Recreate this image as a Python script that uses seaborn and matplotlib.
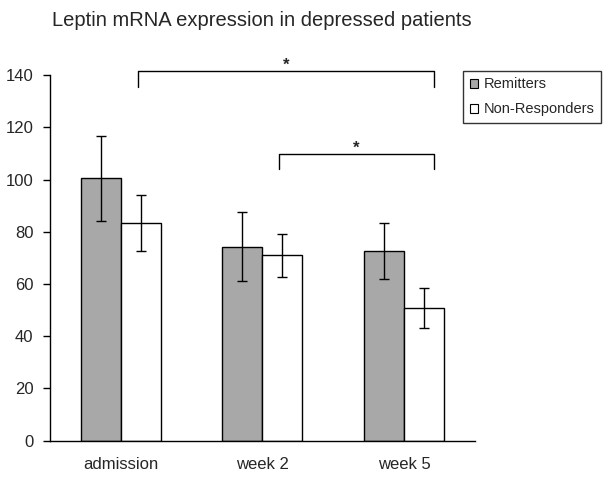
import pandas as pd
import seaborn as sns
import matplotlib.pyplot as plt
from matplotlib.patches import Patch

# values
timepoints = ['admission', 'week 2', 'week 5']
groups = ['Remitters', 'Non-Responders']
remitters = [100.5, 74.3, 72.7]
non_responders = [83.5, 71.0, 50.7]
remitters_err = [16.4, 13.3, 10.8]
non_responders_err = [10.7, 8.2, 7.6]

colors = {'Remitters': '#a8a8a8', 'Non-Responders': '#ffffff'}

data = pd.DataFrame({
    'time': timepoints * 2,
    'group': [groups[0]] * 3 + [groups[1]] * 3,
    'value': remitters + non_responders,
})

sns.set_style('white')
plt.rcParams['font.family'] = ['Liberation Sans', 'DejaVu Sans']

fig = plt.figure(figsize=(6.12, 4.79), dpi=100)
ax = fig.add_axes([0.0817, 0.080, 0.6943, 0.763])

sns.barplot(data=data, x='time', y='value', hue='group', order=timepoints,
            hue_order=groups, palette=colors, errorbar=None, width=0.565,
            edgecolor='black', linewidth=1.0, ax=ax, legend=False)

# error bars at bar centres
errs = remitters_err + non_responders_err
vals = remitters + non_responders
for bar, v, e in zip(ax.patches, vals, errs):
    cx = bar.get_x() + bar.get_width() / 2
    ax.errorbar(cx, v, yerr=e, fmt='none', ecolor='black', elinewidth=1.0,
                capsize=3.4, capthick=1.0)

ax.set_xlim(-0.5, 2.5)
ax.set_ylim(0, 140)
ax.set_yticks(range(0, 141, 20))
ax.set_xlabel('')
ax.set_ylabel('')
ax.set_xticks([0, 1, 2])
ax.set_xticklabels(timepoints)
ax.set_xticks([-0.5, 0.5, 1.5, 2.5], minor=True)
ax.tick_params(axis='x', which='major', length=0, labelsize=12, pad=12)
ax.tick_params(axis='x', which='minor', length=5, width=1, direction='out', color='black')
ax.tick_params(axis='y', length=5, width=1, direction='out', color='black',
               labelsize=12, left=True, pad=7)
sns.despine(ax=ax)
for s in ['left', 'bottom']:
    ax.spines[s].set_color('black')
    ax.spines[s].set_linewidth(1.0)

# significance brackets
def bracket(x0, x1, ytop, ydrop, label):
    ax.plot([x0, x0, x1, x1], [ydrop, ytop, ytop, ydrop], color='black',
            lw=1.0, clip_on=False)
    ax.text((x0 + x1) / 2, ytop + 0.3, label, ha='center', va='baseline',
            fontsize=12, fontweight='bold')

bracket(0.12, 2.21, 141.6, 135.5, '*')
bracket(1.115, 2.21, 110, 104, '*')

fig.text(0.085, 0.9457, 'Leptin mRNA expression in depressed patients',
         fontsize=14.5, ha='left', va='baseline')

handles = [Patch(facecolor=colors[g], edgecolor='black', linewidth=0.8) for g in groups]
leg = fig.legend(handles, groups, loc='upper left', bbox_to_anchor=(0.7565, 0.852),
                 bbox_transform=fig.transFigure, fontsize=10.5, frameon=True,
                 fancybox=False, handlelength=0.6, handleheight=0.6,
                 handletextpad=0.35, borderpad=0.45, labelspacing=0.75,
                 borderaxespad=0)
leg.get_frame().set_edgecolor('black')
leg.get_frame().set_linewidth(1.0)

fig.savefig('out.png', dpi=100)
